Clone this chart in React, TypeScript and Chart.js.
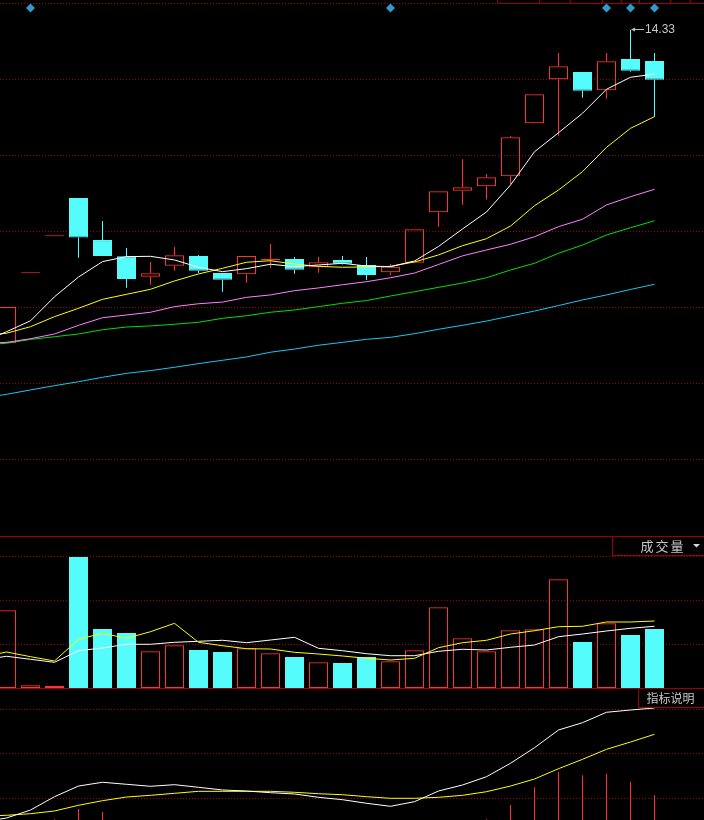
import React, { useEffect, useRef } from 'react';
import { Chart, registerables } from 'chart.js';
Chart.register(...registerables);

// ---------- daily candles (index 0..27) ----------
const OPEN = [12.268, 12.728, 12.972, 13.224, 12.947, 12.840, 12.706, 12.778, 12.842, 12.730, 12.722, 12.814, 12.822, 12.768, 12.816, 12.783, 12.735, 12.798, 13.130, 13.272, 13.301, 13.366, 13.715, 14.005, 14.053, 13.932, 14.138, 14.125];
const CLOSE = [12.507, 12.728, 12.972, 12.963, 12.842, 12.691, 12.728, 12.847, 12.745, 12.686, 12.842, 12.822, 12.752, 12.801, 12.791, 12.717, 12.772, 13.018, 13.268, 13.294, 13.360, 13.623, 13.906, 14.090, 13.930, 14.123, 14.061, 14.002];
const HIGH = [12.507, 12.728, 12.972, 13.224, 13.072, 12.895, 12.803, 12.901, 12.849, 12.730, 12.842, 12.921, 12.836, 12.836, 12.842, 12.836, 12.789, 13.018, 13.268, 13.478, 13.382, 13.632, 13.906, 14.178, 14.053, 14.178, 14.330, 14.178];
const LOW = [12.268, 12.728, 12.972, 12.831, 12.842, 12.634, 12.653, 12.745, 12.730, 12.607, 12.666, 12.765, 12.726, 12.732, 12.786, 12.684, 12.717, 12.798, 13.035, 13.180, 13.213, 13.316, 13.715, 13.634, 13.884, 13.877, 14.055, 13.759];

// moving averages: first value belongs to the day before index 0
const MA5 = [12.276, 12.344, 12.416, 12.574, 12.704, 12.805, 12.838, 12.840, 12.816, 12.768, 12.739, 12.759, 12.788, 12.772, 12.783, 12.794, 12.776, 12.772, 12.809, 12.905, 13.020, 13.132, 13.309, 13.528, 13.653, 13.781, 13.939, 14.018, 14.039];
const MA10 = [12.316, 12.334, 12.377, 12.443, 12.498, 12.557, 12.590, 12.623, 12.678, 12.724, 12.761, 12.801, 12.811, 12.789, 12.774, 12.768, 12.770, 12.774, 12.803, 12.849, 12.910, 12.956, 13.039, 13.173, 13.276, 13.397, 13.557, 13.682, 13.759];
const MA20 = [12.266, 12.274, 12.298, 12.329, 12.386, 12.436, 12.454, 12.472, 12.509, 12.528, 12.539, 12.570, 12.586, 12.614, 12.632, 12.653, 12.673, 12.699, 12.730, 12.786, 12.843, 12.882, 12.919, 12.969, 13.035, 13.084, 13.178, 13.232, 13.281];
const MA30 = [12.257, 12.268, 12.293, 12.311, 12.329, 12.357, 12.375, 12.382, 12.393, 12.406, 12.432, 12.449, 12.472, 12.487, 12.509, 12.531, 12.549, 12.579, 12.607, 12.636, 12.664, 12.699, 12.750, 12.794, 12.860, 12.914, 12.980, 13.028, 13.074];
const MA60 = [11.908, 11.932, 11.961, 11.989, 12.015, 12.044, 12.070, 12.088, 12.110, 12.134, 12.156, 12.178, 12.209, 12.230, 12.255, 12.274, 12.294, 12.307, 12.331, 12.360, 12.386, 12.414, 12.447, 12.480, 12.516, 12.553, 12.586, 12.622, 12.656];

const SIGNAL_DAYS = [1, 16, 25, 26, 27];
const PRICE_GRID = [11.5, 12.0, 12.5, 13.0, 13.5, 14.0, 14.5];

// ---------- volume ----------
const VOLUME = [35590, 1240, 920, 60000, 27020, 25190, 16810, 19560, 17400, 16490, 18180, 15890, 14200, 11770, 11450, 14200, 12230, 17270, 36960, 22760, 16810, 26430, 26890, 49790, 21070, 29630, 24270, 27020];
const VOL_MA5 = [14200, 16490, 14340, 12370, 22310, 25050, 22760, 25790, 29630, 20930, 19370, 18000, 17860, 16350, 15570, 14660, 13600, 12820, 13600, 18460, 20750, 21850, 24730, 26240, 28080, 28260, 30230, 30230, 30690];
const VOL_MA10 = [12820, 14520, 13150, 11770, 17080, 18320, 20020, 20020, 20930, 21390, 21850, 20750, 21980, 23220, 18180, 17080, 15710, 14790, 14790, 16810, 17730, 17400, 18640, 19690, 23500, 24730, 26110, 27340, 28260];
const VOL_GRID = [20000, 40000, 60000];

// ---------- MACD ----------
const DIF = [0.047, 0.0557, 0.0737, 0.1036, 0.1276, 0.136, 0.1315, 0.127, 0.1306, 0.1247, 0.1187, 0.1164, 0.1126, 0.1097, 0.1022, 0.0969, 0.0888, 0.082, 0.0924, 0.1164, 0.1299, 0.1485, 0.1787, 0.2137, 0.2535, 0.2699, 0.2933, 0.2984, 0.3029];
const DEA = [0.060, 0.0618, 0.0654, 0.0715, 0.0843, 0.0946, 0.1029, 0.1067, 0.1112, 0.1157, 0.1157, 0.1157, 0.1157, 0.1135, 0.1103, 0.1081, 0.1036, 0.1, 0.1, 0.1022, 0.1067, 0.1148, 0.1276, 0.1434, 0.1665, 0.1876, 0.2101, 0.2265, 0.2438];
const MACD_HIST = [-0.01, 0.02, 0.053, 0.076, 0.069, 0.045, 0.04, 0.035, 0.02, 0.005, -0.002, -0.006, -0.008, -0.016, -0.022, -0.028, -0.036, -0.015, 0.028, 0.046, 0.053, 0.085, 0.125, 0.159, 0.152, 0.155, 0.137, 0.107];
const MACD_GRID = [0.1, 0.2, 0.3];

// ---------- style ----------
const RED = '#ff3333';
const CYAN = '#54fcfc';
const GRID_RED = '#a00000';
const BORDER_RED = '#9a0000';
const TEXT_GRAY = '#c8c8c8';
const W = 704;
const X_MIN = -6.5 / 24;
const X_MAX = X_MIN + W / 24;

const isUp = (i: number) => CLOSE[i] >= OPEN[i];
const withPrior = (arr: number[]) => arr.map((v, k) => ({ x: k - 1, y: v }));
const xScale = { type: 'linear', min: X_MIN, max: X_MAX, display: false, offset: false, grid: { display: false, offset: false } };
const yGrid = (min: number, max: number, ticks: number[]) => ({
  type: 'linear', min, max, position: 'left', display: true,
  ticks: { display: false },
  grid: { color: GRID_RED, lineWidth: 1, drawTicks: false },
  border: { display: false, dash: [1, 2] },
  afterBuildTicks: (s: any) => { s.ticks = ticks.map((v) => ({ value: v })); },
});
const baseOptions = (padBottom: number) => ({
  responsive: false,
  animation: false,
  devicePixelRatio: 1,
  events: [],
  layout: { autoPadding: false, padding: { left: 0, right: 0, top: 0, bottom: padBottom } },
  plugins: { legend: { display: false }, tooltip: { enabled: false }, title: { display: false } },
});
const line = (data: any[], color: string) => ({
  type: 'line', data, borderColor: color, borderWidth: 1, pointRadius: 0, tension: 0, fill: false, order: 0,
});
const barCommon = { grouped: false, borderSkipped: false, inflateAmount: 0 };

function mainConfig(): any {
  const idx = OPEN.map((_, i) => i);
  const bodies = {
    type: 'bar', ...barCommon, order: 2, barThickness: 19, minBarLength: 1, borderWidth: 1,
    data: idx.map((i) => ({ x: i, y: [OPEN[i], CLOSE[i]] })),
    backgroundColor: idx.map((i) => (isUp(i) ? 'rgba(0,0,0,0)' : CYAN)),
    borderColor: idx.map((i) => (isUp(i) ? RED : CYAN)),
  };
  const upperWicks = {
    type: 'bar', ...barCommon, order: 3, barThickness: 1, borderWidth: 0,
    data: idx.map((i) => ({ x: i, y: [Math.max(OPEN[i], CLOSE[i]), HIGH[i]] })),
    backgroundColor: idx.map((i) => (isUp(i) ? RED : CYAN)),
  };
  const lowerWicks = {
    type: 'bar', ...barCommon, order: 3, barThickness: 1, borderWidth: 0,
    data: idx.map((i) => ({ x: i, y: [LOW[i], Math.min(OPEN[i], CLOSE[i])] })),
    backgroundColor: idx.map((i) => (isUp(i) ? RED : CYAN)),
  };
  const markers = {
    type: 'scatter', order: 0,
    data: SIGNAL_DAYS.map((d) => ({ x: d, y: 14.4737 })),
    pointStyle: 'rectRot', pointRadius: 4.5, pointBorderWidth: 0,
    backgroundColor: '#3399cc', borderColor: '#3399cc',
  };
  const overlay = {
    id: 'mainOverlay',
    afterDatasetsDraw(chart: any) {
      const { ctx, scales } = chart;
      ctx.save();
      ctx.strokeStyle = BORDER_RED;
      ctx.lineWidth = 1;
      ctx.beginPath();
      ctx.moveTo(497, 3.5);
      ctx.lineTo(W, 3.5);
      [497, 539, 570, 602, 621, 639, 670, 690].forEach((px) => {
        ctx.moveTo(px + 0.5, 0);
        ctx.lineTo(px + 0.5, 3.5);
      });
      ctx.stroke();
      let hi = 0;
      HIGH.forEach((v, i) => { if (v > HIGH[hi]) hi = i; });
      const px = Math.round(scales.x.getPixelForValue(hi));
      const py = Math.floor(scales.y.getPixelForValue(HIGH[hi])) + 0.5;
      ctx.strokeStyle = '#c0c0c0';
      ctx.fillStyle = '#c0c0c0';
      ctx.beginPath();
      ctx.moveTo(px + 1, py);
      ctx.lineTo(px + 13, py);
      ctx.stroke();
      ctx.beginPath();
      ctx.moveTo(px, py);
      ctx.lineTo(px + 4, py - 2);
      ctx.lineTo(px + 4, py + 2);
      ctx.closePath();
      ctx.fill();
      ctx.fillStyle = TEXT_GRAY;
      ctx.font = '13px "Liberation Sans", Arial, sans-serif';
      ctx.textBaseline = 'middle';
      ctx.textAlign = 'left';
      ctx.fillText(HIGH[hi].toFixed(2), px + 14, py, 30);
      ctx.restore();
    },
  };
  return {
    type: 'bar',
    data: {
      datasets: [
        line(withPrior(MA5), '#ffffff'),
        line(withPrior(MA10), '#ffff00'),
        line(withPrior(MA20), '#ff80ff'),
        line(withPrior(MA30), '#00e000'),
        line(withPrior(MA60), '#18c8f0'),
        markers,
        bodies,
        upperWicks,
        lowerWicks,
      ],
    },
    options: { ...baseOptions(0), scales: { x: xScale, y: yGrid(11.0, 14.5263, PRICE_GRID) } },
    plugins: [overlay],
  };
}

function volumeConfig(): any {
  const idx = VOLUME.map((_, i) => i);
  const bars = {
    type: 'bar', ...barCommon, order: 2, barThickness: 19, borderWidth: 1,
    data: idx.map((i) => ({ x: i, y: VOLUME[i] })),
    backgroundColor: idx.map((i) => (isUp(i) ? 'rgba(0,0,0,0)' : CYAN)),
    borderColor: idx.map((i) => (isUp(i) ? RED : CYAN)),
  };
  const overlay = {
    id: 'volOverlay',
    afterDraw(chart: any) {
      const { ctx } = chart;
      ctx.save();
      ctx.fillStyle = BORDER_RED;
      ctx.fillRect(0, 0, W, 1);
      ctx.fillRect(0, 152, W, 1);
      ctx.fillStyle = '#000';
      ctx.fillRect(613, 1, W - 613, 18);
      ctx.fillStyle = BORDER_RED;
      ctx.fillRect(612, 0, 1, 20);
      ctx.fillRect(612, 19, W - 612, 1);
      ctx.fillStyle = TEXT_GRAY;
      ctx.font = '13px "Noto Sans CJK SC", sans-serif';
      ctx.textBaseline = 'middle';
      ctx.textAlign = 'center';
      ['成', '交', '量'].forEach((ch, k) => ctx.fillText(ch, 647 + k * 15, 10.5));
      ctx.fillStyle = '#d8d8d8';
      ctx.beginPath();
      ctx.moveTo(693, 8);
      ctx.lineTo(700, 8);
      ctx.lineTo(696.5, 11.5);
      ctx.closePath();
      ctx.fill();
      ctx.restore();
    },
  };
  return {
    type: 'bar',
    data: {
      datasets: [
        line(withPrior(VOL_MA5), '#ffff00'),
        line(withPrior(VOL_MA10), '#ffffff'),
        bars,
      ],
    },
    options: { ...baseOptions(1), scales: { x: xScale, y: yGrid(0, 69613, VOL_GRID) } },
    plugins: [overlay],
  };
}

function macdConfig(): any {
  const idx = MACD_HIST.map((_, i) => i);
  const hist = {
    type: 'bar', ...barCommon, order: 2, barThickness: 1, borderWidth: 0,
    data: idx.map((i) => ({ x: i, y: MACD_HIST[i] })),
    backgroundColor: idx.map((i) => (MACD_HIST[i] >= 0 ? RED : CYAN)),
  };
  const overlay = {
    id: 'macdOverlay',
    afterDraw(chart: any) {
      const { ctx } = chart;
      ctx.save();
      ctx.fillStyle = '#000';
      ctx.fillRect(639, 0, W - 639, 18);
      ctx.fillStyle = BORDER_RED;
      ctx.fillRect(638, 0, 1, 19);
      ctx.fillRect(638, 18, W - 638, 1);
      ctx.fillStyle = TEXT_GRAY;
      ctx.font = '12px "Noto Sans CJK SC", sans-serif';
      ctx.textBaseline = 'middle';
      ctx.textAlign = 'left';
      ctx.fillText('指标说明', 646.5, 9.5);
      ctx.restore();
    },
  };
  return {
    type: 'bar',
    data: {
      datasets: [
        line(withPrior(DIF), '#ffffff'),
        line(withPrior(DEA), '#ffff00'),
        hist,
      ],
    },
    options: { ...baseOptions(0), scales: { x: xScale, y: yGrid(0.051236, 0.345618, MACD_GRID) } },
    plugins: [overlay],
  };
}

export default function App() {
  const mainRef = useRef<HTMLCanvasElement>(null);
  const volRef = useRef<HTMLCanvasElement>(null);
  const macdRef = useRef<HTMLCanvasElement>(null);

  useEffect(() => {
    document.body.style.margin = '0';
    document.body.style.background = '#000';
    const charts = [
      new Chart(mainRef.current as HTMLCanvasElement, mainConfig()),
      new Chart(volRef.current as HTMLCanvasElement, volumeConfig()),
      new Chart(macdRef.current as HTMLCanvasElement, macdConfig()),
    ];
    return () => charts.forEach((c) => c.destroy());
  }, []);

  return (
    <div style={{ position: 'absolute', left: 0, top: 0, width: W, height: 820, background: '#000', overflow: 'hidden' }}>
      <canvas ref={mainRef} width={W} height={536} style={{ position: 'absolute', left: 0, top: 0 }} />
      <canvas ref={volRef} width={W} height={153} style={{ position: 'absolute', left: 0, top: 536 }} />
      <canvas ref={macdRef} width={W} height={131} style={{ position: 'absolute', left: 0, top: 689 }} />
    </div>
  );
}
